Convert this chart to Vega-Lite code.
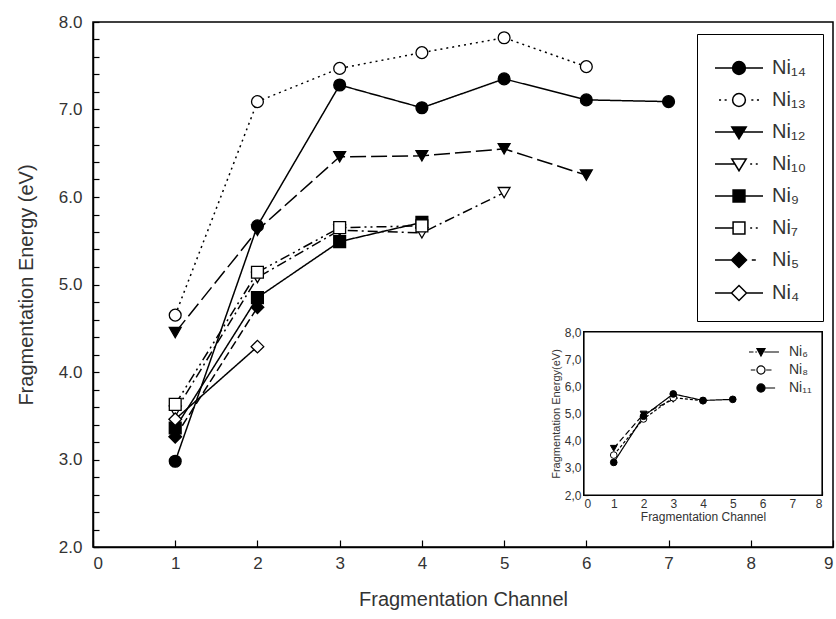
{
  "$schema": "https://vega.github.io/schema/vega-lite/v6.json",
  "width": 740,
  "height": 525,
  "autosize": {"type": "none"},
  "padding": {"left": 93, "top": 22, "right": 3, "bottom": 72},
  "background": "white",
  "config": {
    "view": {"stroke": "black", "strokeWidth": 1.5},
    "axis": {"domainColor": "black", "domainWidth": 1.5, "tickColor": "black", "tickWidth": 1.2, "grid": false, "labelFont": "Liberation Sans", "titleFont": "Liberation Sans", "labelColor": "#333", "titleColor": "#333", "titleFontWeight": "normal", "labelOverlap": false},
    "legend": {"labelFont": "Liberation Sans", "labelColor": "#333"}
  },
  "datasets": {
    "main": [
      {"cluster": "Ni₁₄", "channel": 1, "energy": 2.98},
      {"cluster": "Ni₁₄", "channel": 2, "energy": 5.67},
      {"cluster": "Ni₁₄", "channel": 3, "energy": 7.28},
      {"cluster": "Ni₁₄", "channel": 4, "energy": 7.02},
      {"cluster": "Ni₁₄", "channel": 5, "energy": 7.35},
      {"cluster": "Ni₁₄", "channel": 6, "energy": 7.11},
      {"cluster": "Ni₁₄", "channel": 7, "energy": 7.09},
      {"cluster": "Ni₁₃", "channel": 1, "energy": 4.65},
      {"cluster": "Ni₁₃", "channel": 2, "energy": 7.09},
      {"cluster": "Ni₁₃", "channel": 3, "energy": 7.47},
      {"cluster": "Ni₁₃", "channel": 4, "energy": 7.65},
      {"cluster": "Ni₁₃", "channel": 5, "energy": 7.82},
      {"cluster": "Ni₁₃", "channel": 6, "energy": 7.49},
      {"cluster": "Ni₁₂", "channel": 1, "energy": 4.45},
      {"cluster": "Ni₁₂", "channel": 2, "energy": 5.62},
      {"cluster": "Ni₁₂", "channel": 3, "energy": 6.46},
      {"cluster": "Ni₁₂", "channel": 4, "energy": 6.47},
      {"cluster": "Ni₁₂", "channel": 5, "energy": 6.55},
      {"cluster": "Ni₁₂", "channel": 6, "energy": 6.25},
      {"cluster": "Ni₁₀", "channel": 1, "energy": 3.55},
      {"cluster": "Ni₁₀", "channel": 2, "energy": 5.08},
      {"cluster": "Ni₁₀", "channel": 3, "energy": 5.62},
      {"cluster": "Ni₁₀", "channel": 4, "energy": 5.59},
      {"cluster": "Ni₁₀", "channel": 5, "energy": 6.05},
      {"cluster": "Ni₉", "channel": 1, "energy": 3.36},
      {"cluster": "Ni₉", "channel": 2, "energy": 4.85},
      {"cluster": "Ni₉", "channel": 3, "energy": 5.49},
      {"cluster": "Ni₉", "channel": 4, "energy": 5.71},
      {"cluster": "Ni₇", "channel": 1, "energy": 3.63},
      {"cluster": "Ni₇", "channel": 2, "energy": 5.14},
      {"cluster": "Ni₇", "channel": 3, "energy": 5.65},
      {"cluster": "Ni₇", "channel": 4, "energy": 5.67},
      {"cluster": "Ni₅", "channel": 1, "energy": 3.26},
      {"cluster": "Ni₅", "channel": 2, "energy": 4.74},
      {"cluster": "Ni₄", "channel": 1, "energy": 3.46},
      {"cluster": "Ni₄", "channel": 2, "energy": 4.29}
    ],
    "inset": [
      {"cluster": "Ni₆", "channel": 1, "energy": 3.72},
      {"cluster": "Ni₆", "channel": 2, "energy": 4.98},
      {"cluster": "Ni₆", "channel": 3, "energy": 5.52},
      {"cluster": "Ni₈", "channel": 1, "energy": 3.47},
      {"cluster": "Ni₈", "channel": 2, "energy": 4.8},
      {"cluster": "Ni₈", "channel": 3, "energy": 5.58},
      {"cluster": "Ni₈", "channel": 4, "energy": 5.47},
      {"cluster": "Ni₁₁", "channel": 1, "energy": 3.2},
      {"cluster": "Ni₁₁", "channel": 2, "energy": 4.9},
      {"cluster": "Ni₁₁", "channel": 3, "energy": 5.72},
      {"cluster": "Ni₁₁", "channel": 4, "energy": 5.48},
      {"cluster": "Ni₁₁", "channel": 5, "energy": 5.52}
    ]
  },
  "layer": [
    {
      "data": {"name": "main"},
      "encoding": {
        "x": {"field": "channel", "type": "quantitative", "scale": {"domain": [0, 9], "nice": false, "zero": false},
          "axis": {"values": [0, 1, 2, 3, 4, 5, 6, 7, 8, 9], "format": "d", "tickSize": -7, "labelPadding": 15, "labelFontSize": 17, "title": "Fragmentation Channel", "titleFontSize": 20, "titlePadding": 18}},
        "y": {"field": "energy", "type": "quantitative", "scale": {"domain": [2, 8], "nice": false, "zero": false},
          "axis": {"values": [2, 2.2, 2.4, 2.6, 2.8, 3, 3.2, 3.4, 3.6, 3.8, 4, 4.2, 4.4, 4.6, 4.8, 5, 5.2, 5.4, 5.6, 5.8, 6, 6.2, 6.4, 6.6, 6.8, 7, 7.2, 7.4, 7.6, 7.8, 8],
            "labelExpr": "datum.value % 1 == 0 ? format(datum.value, '.1f') : ''", "tickSize": -6, "labelPadding": 17, "labelFontSize": 17, "title": "Fragmentation Energy (eV)", "titleFontSize": 20, "titlePadding": 22}}
      },
      "layer": [
        {
          "mark": {"type": "line", "stroke": "black", "strokeWidth": 1.5},
          "encoding": {
            "detail": {"field": "cluster", "type": "nominal"},
            "strokeDash": {"field": "cluster", "type": "nominal", "legend": null,
              "scale": {"domain": ["Ni₁₄", "Ni₁₃", "Ni₁₂", "Ni₁₀", "Ni₉", "Ni₇", "Ni₅", "Ni₄"],
                "range": [[1, 0], [2, 4], [16, 5], [10, 4, 2, 4], [1, 0], [10, 4, 2, 4, 2, 4], [9, 4], [1, 0]]}}
          }
        },
        {"transform": [{"filter": {"field": "cluster", "equal": "Ni₁₄"}}], "mark": {"type": "point", "shape": "circle", "fill": "black", "stroke": "black", "strokeWidth": 1.3, "size": 140, "opacity": 1}},
        {"transform": [{"filter": {"field": "cluster", "equal": "Ni₁₃"}}], "mark": {"type": "point", "shape": "circle", "fill": "white", "stroke": "black", "strokeWidth": 1.3, "size": 140, "opacity": 1}},
        {"transform": [{"filter": {"field": "cluster", "equal": "Ni₁₂"}}], "mark": {"type": "point", "shape": "triangle-down", "fill": "black", "stroke": "black", "strokeWidth": 1.3, "size": 140, "opacity": 1}},
        {"transform": [{"filter": {"field": "cluster", "equal": "Ni₁₀"}}], "mark": {"type": "point", "shape": "triangle-down", "fill": "white", "stroke": "black", "strokeWidth": 1.3, "size": 140, "opacity": 1}},
        {"transform": [{"filter": {"field": "cluster", "equal": "Ni₉"}}], "mark": {"type": "point", "shape": "square", "fill": "black", "stroke": "black", "strokeWidth": 1.3, "size": 140, "opacity": 1}},
        {"transform": [{"filter": {"field": "cluster", "equal": "Ni₇"}}], "mark": {"type": "point", "shape": "square", "fill": "white", "stroke": "black", "strokeWidth": 1.3, "size": 140, "opacity": 1}},
        {"transform": [{"filter": {"field": "cluster", "equal": "Ni₅"}}], "mark": {"type": "point", "shape": "diamond", "fill": "black", "stroke": "black", "strokeWidth": 1.3, "size": 160, "opacity": 1}},
        {"transform": [{"filter": {"field": "cluster", "equal": "Ni₄"}}], "mark": {"type": "point", "shape": "diamond", "fill": "white", "stroke": "black", "strokeWidth": 1.3, "size": 160, "opacity": 1}},
        {
          "mark": {"type": "point", "stroke": "black", "strokeWidth": 1.5, "opacity": 0},
          "encoding": {
            "shape": {"field": "cluster", "type": "nominal",
              "scale": {"domain": ["Ni₁₄", "Ni₁₃", "Ni₁₂", "Ni₁₀", "Ni₉", "Ni₇", "Ni₅", "Ni₄"],
                "range": [
                  "M-1,0H0.1M0.9,0H2M0.1,0A0.4,0.4 0 1,1 0.9,0A0.4,0.4 0 1,1 0.1,0Z",
                  "M-0.75,0H-0.62M-0.4,0H-0.27M1.27,0H1.4M1.62,0H1.75M0.1,0A0.4,0.4 0 1,1 0.9,0A0.4,0.4 0 1,1 0.1,0Z",
                  "M-1,0H0.24M0.76,0H2M0.05,-0.32L0.95,-0.32L0.5,0.42Z",
                  "M-1,0H0.24M1.2,0H1.32M1.55,0H1.67M0.05,-0.32L0.95,-0.32L0.5,0.42Z",
                  "M-1,0H0.13M0.87,0H2M0.13,-0.37H0.87V0.37H0.13Z",
                  "M-1,0H0.13M1.2,0H1.32M1.55,0H1.67M0.13,-0.37H0.87V0.37H0.13Z",
                  "M-1,0H0.03M1.3,0H1.55M0.03,0L0.5,-0.47L0.97,0L0.5,0.47Z",
                  "M-1,0H0.03M0.97,0H2M0.03,0L0.5,-0.47L0.97,0L0.5,0.47Z"
                ]},
              "legend": {"title": null, "orient": "none", "legendX": 604, "legendY": 12, "padding": 17, "strokeColor": "black", "symbolSize": 1024, "symbolOpacity": 1, "symbolStrokeWidth": 1.5, "symbolStrokeColor": "black", "labelFontSize": 20, "labelOffset": 24, "rowPadding": 5,
                "encode": {"symbols": {"update": {"stroke": {"value": "black"}, "strokeWidth": {"value": 1.5}, "strokeOpacity": {"value": 1}}}}}},
            "fill": {"field": "cluster", "type": "nominal",
              "scale": {"domain": ["Ni₁₄", "Ni₁₃", "Ni₁₂", "Ni₁₀", "Ni₉", "Ni₇", "Ni₅", "Ni₄"],
                "range": ["black", "white", "black", "white", "black", "white", "black", "white"]},
              "legend": {"title": null, "orient": "none", "legendX": 604, "legendY": 12, "padding": 17, "strokeColor": "black", "symbolSize": 1024, "symbolOpacity": 1, "symbolStrokeWidth": 1.5, "symbolStrokeColor": "black", "labelFontSize": 20, "labelOffset": 24, "rowPadding": 5,
                "encode": {"symbols": {"update": {"stroke": {"value": "black"}, "strokeWidth": {"value": 1.5}, "strokeOpacity": {"value": 1}}}}}}
          }
        }
      ],
      "resolve": {"scale": {"shape": "independent", "fill": "independent"}, "legend": {"shape": "independent", "fill": "independent"}}
    },
    {
      "data": {"name": "inset"},
      "encoding": {
        "x": {"field": "channel", "type": "quantitative", "scale": {"domain": [0, 8], "range": [491, 729], "nice": false, "zero": false},
          "axis": {"orient": "bottom", "offset": -52, "values": [0, 1, 2, 3, 4, 5, 6, 7, 8], "format": "d", "tickSize": -4, "labelPadding": 7, "labelFontSize": 12, "title": "Fragmentation Channel", "titleFontSize": 12, "titlePadding": 2, "domainWidth": 1.2}},
        "y": {"field": "energy", "type": "quantitative", "scale": {"domain": [2, 8], "range": [473, 310], "nice": false, "zero": false},
          "axis": {"orient": "left", "offset": -491, "values": [2, 3, 4, 5, 6, 7, 8], "labelExpr": "replace(format(datum.value, '.1f'), '.', ',')", "tickSize": -4, "labelPadding": 7, "labelFontSize": 12, "title": "Fragmentation Energy(eV)", "titleFontSize": 11, "titlePadding": 3, "domainWidth": 1.2}}
      },
      "layer": [
        {
          "mark": {"type": "rect", "fill": "white", "stroke": "black", "strokeWidth": 1.2},
          "encoding": {
            "x": {"datum": 0, "type": "quantitative"},
            "x2": {"datum": 8},
            "y": {"datum": 2, "type": "quantitative"},
            "y2": {"datum": 8}
          }
        },
        {
          "mark": {"type": "line", "stroke": "black", "strokeWidth": 1.2},
          "encoding": {
            "detail": {"field": "cluster", "type": "nominal"},
            "strokeDash": {"field": "cluster", "type": "nominal", "legend": null,
              "scale": {"domain": ["Ni₆", "Ni₈", "Ni₁₁"], "range": [[6, 3], [3, 2], [1, 0]]}}
          }
        },
        {"transform": [{"filter": {"field": "cluster", "equal": "Ni₆"}}], "mark": {"type": "point", "shape": "triangle-down", "fill": "black", "stroke": "black", "strokeWidth": 1, "size": 45, "opacity": 1}},
        {"transform": [{"filter": {"field": "cluster", "equal": "Ni₈"}}], "mark": {"type": "point", "shape": "circle", "fill": "white", "stroke": "black", "strokeWidth": 1, "size": 45, "opacity": 1}},
        {"transform": [{"filter": {"field": "cluster", "equal": "Ni₁₁"}}], "mark": {"type": "point", "shape": "circle", "fill": "black", "stroke": "black", "strokeWidth": 1, "size": 45, "opacity": 1}},
        {
          "mark": {"type": "point", "stroke": "black", "strokeWidth": 1.2, "opacity": 0},
          "encoding": {
            "shape": {"field": "cluster", "type": "nominal",
              "scale": {"domain": ["Ni₆", "Ni₈", "Ni₁₁"],
                "range": [
                  "M-1,0H-0.5M-0.3,0H-0.12M0.7,0H2.33M-0.12,-0.38L0.78,-0.38L0.33,0.45Z",
                  "M-0.8,0H-0.3M0.9,0H1.5M-0.12,0A0.45,0.45 0 1,1 0.78,0A0.45,0.45 0 1,1 -0.12,0Z",
                  "M0.78,0H1.9M-0.12,0A0.45,0.45 0 1,1 0.78,0A0.45,0.45 0 1,1 -0.12,0Z"
                ]},
              "legend": {"title": null, "orient": "none", "legendX": 655, "legendY": 320, "padding": 0, "symbolSize": 324, "symbolOpacity": 1, "symbolStrokeWidth": 1.2, "symbolStrokeColor": "black", "labelFontSize": 14, "labelOffset": 21, "rowPadding": 1,
                "encode": {"symbols": {"update": {"stroke": {"value": "black"}, "strokeWidth": {"value": 1.2}, "strokeOpacity": {"value": 1}}}}}},
            "fill": {"field": "cluster", "type": "nominal",
              "scale": {"domain": ["Ni₆", "Ni₈", "Ni₁₁"], "range": ["black", "white", "black"]},
              "legend": {"title": null, "orient": "none", "legendX": 655, "legendY": 320, "padding": 0, "symbolSize": 324, "symbolOpacity": 1, "symbolStrokeWidth": 1.2, "symbolStrokeColor": "black", "labelFontSize": 14, "labelOffset": 21, "rowPadding": 1,
                "encode": {"symbols": {"update": {"stroke": {"value": "black"}, "strokeWidth": {"value": 1.2}, "strokeOpacity": {"value": 1}}}}}}
          }
        }
      ],
      "resolve": {"scale": {"shape": "independent", "fill": "independent"}, "legend": {"shape": "independent", "fill": "independent"}}
    }
  ],
  "resolve": {
    "scale": {"x": "independent", "y": "independent", "shape": "independent", "fill": "independent", "strokeDash": "independent"},
    "axis": {"x": "independent", "y": "independent"},
    "legend": {"shape": "independent", "fill": "independent", "strokeDash": "independent"}
  }
}
